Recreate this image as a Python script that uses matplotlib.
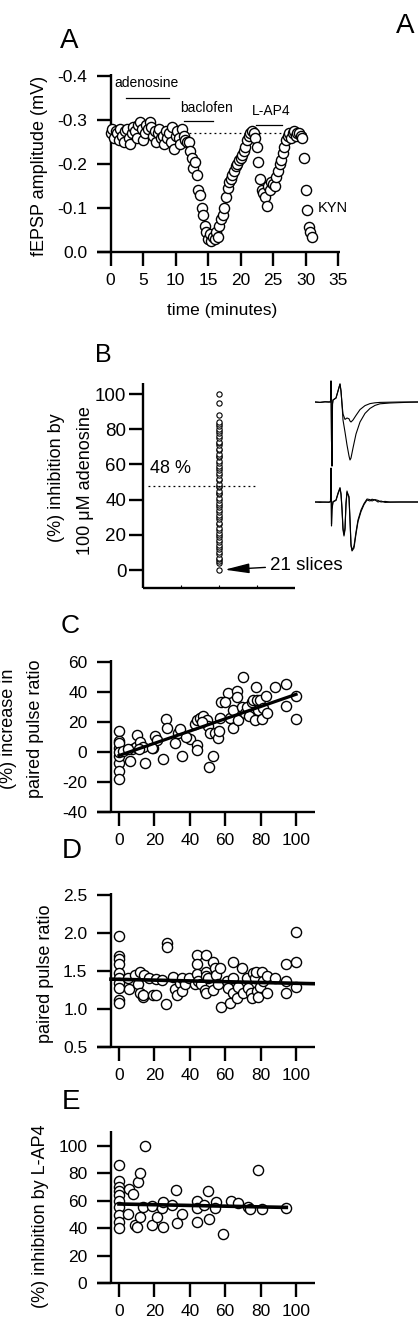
import matplotlib
matplotlib.use("Agg")
import matplotlib.pyplot as plt
import numpy as np

plt.rcParams['font.family'] = ['Liberation Sans', 'DejaVu Sans']
plt.rcParams['axes.unicode_minus'] = False

W, H = 418, 1328

# ---------------- data ----------------
# Panel A: fEPSP amplitude time course
a_time = [0.0, 0.25, 0.5, 0.75, 1.0, 1.25, 1.5, 1.75, 2.0, 2.25, 2.5, 2.75, 3.0, 3.25, 3.5, 3.75,
          4.0, 4.25, 4.5, 4.75, 5.0, 5.25, 5.5, 5.75, 6.0, 6.25, 6.5, 6.75, 7.0, 7.25, 7.5, 7.75,
          8.0, 8.25, 8.5, 8.75, 9.0, 9.25, 9.5, 9.75, 10.0, 10.25, 10.5, 10.75, 11.0, 11.25, 11.5, 11.75,
          12.0, 12.25, 12.5, 12.75, 13.0, 13.25, 13.5, 13.75, 14.0, 14.25, 14.5, 14.75, 15.0, 15.25,
          15.5, 15.75, 16.0, 16.25, 16.5, 16.75, 17.0, 17.25, 17.5, 17.75, 18.0, 18.25, 18.5, 18.75,
          19.0, 19.25, 19.5, 19.75, 20.0, 20.25, 20.5, 20.75, 21.0, 21.25, 21.5, 21.75, 22.0, 22.25,
          22.5, 22.75, 23.0, 23.25, 23.5, 23.75, 24.0, 24.25, 24.5, 24.75, 25.0, 25.25, 25.5, 25.75,
          26.0, 26.25, 26.5, 26.75, 27.0, 27.25, 27.5, 27.75, 28.0, 28.25, 28.5, 28.75, 29.0, 29.25,
          29.5, 29.75, 30.0, 30.25, 30.5, 30.75, 31.0]
a_amp = [-0.27, -0.28, -0.26, -0.275, -0.27, -0.255, -0.28, -0.265, -0.25, -0.275, -0.28, -0.26,
         -0.245, -0.27, -0.285, -0.275, -0.26, -0.29, -0.295, -0.28, -0.255, -0.27, -0.29, -0.28,
         -0.295, -0.285, -0.265, -0.275, -0.25, -0.27, -0.28, -0.26, -0.265, -0.245, -0.275, -0.26,
         -0.27, -0.25, -0.285, -0.235, -0.265, -0.275, -0.26, -0.245, -0.28, -0.265, -0.255, -0.25,
         -0.25, -0.23, -0.215, -0.19, -0.205, -0.175, -0.14, -0.13, -0.10, -0.085, -0.06, -0.045,
         -0.03, -0.04, -0.025, -0.035, -0.03, -0.045, -0.035, -0.06, -0.075, -0.085, -0.10, -0.125,
         -0.145, -0.16, -0.165, -0.175, -0.185, -0.195, -0.20, -0.21, -0.215, -0.22, -0.23, -0.24,
         -0.255, -0.265, -0.27, -0.275, -0.27, -0.26, -0.24, -0.205, -0.165, -0.14, -0.135, -0.125,
         -0.105, -0.15, -0.14, -0.16, -0.155, -0.15, -0.17, -0.185, -0.20, -0.21, -0.225, -0.24,
         -0.255, -0.265, -0.27, -0.26, -0.27, -0.275, -0.265, -0.27, -0.27, -0.265, -0.26, -0.215,
         -0.14, -0.095, -0.058, -0.045, -0.035]
a_yticks = [0.0, -0.1, -0.2, -0.3, -0.4]
a_yticklabels = ["0.0", "-0.1", "-0.2", "-0.3", "-0.4"]
a_xticks = [0, 5, 10, 15, 20, 25, 30, 35]
a_bars = {"adenosine": (2.4, 9.0, -0.35), "baclofen": (11.3, 15.8, -0.298), "L-AP4": (22.4, 26.4, -0.289)}
a_baseline = -0.27

# Panel B: % inhibition by adenosine (one column of slices)
b_values = [0, 4, 5, 6, 7, 9, 10, 12, 13, 14, 16, 17, 19, 20, 21, 23, 24, 26, 27, 29, 30, 31, 33,
            34, 36, 37, 38, 40, 41, 43, 44, 45, 47, 48, 49, 51, 52, 54, 55, 57, 58, 59, 61, 62,
            64, 65, 66, 68, 69, 71, 72, 73, 75, 76, 78, 79, 80, 82, 83, 84, 88, 95, 100]
b_mean = 48
b_yticks = [0, 20, 40, 60, 80, 100]

# Panel B inset traces (time in ms, voltage in arbitrary mV)
tr_t = [0.0, 0.5, 1.0, 1.4, 1.55, 1.6, 1.65, 1.7, 1.75, 1.8, 2.1, 2.3, 2.5, 2.6, 2.7, 2.8, 3.0,
        3.2, 3.4, 3.5, 3.6, 3.8, 4.1, 4.5, 5.0, 5.5, 6.0, 6.5, 7.5, 8.5, 9.5, 10.3]
tr_top_ctrl = [0.0, -0.02, 0.01, 0.0, 0.01, 1.05, -1.9, -3.2, -0.1, 0.1, 0.2, 0.55, 0.9, 0.55, -0.1,
               -0.9, -1.5, -2.15, -2.7, -2.9, -2.8, -2.3, -1.6, -1.0, -0.57, -0.32, -0.17, -0.09,
               -0.05, -0.03, -0.01, 0.0]
tr_top_aden = [0.0, -0.02, 0.01, 0.0, 0.01, 1.05, -1.9, -3.2, -0.1, 0.1, 0.2, 0.55, 0.9, 0.55, -0.1,
               -0.6, -0.87, -0.8, -0.84, -0.95, -1.0, -0.9, -0.67, -0.38, -0.18, -0.08, -0.04,
               -0.02, -0.01, 0.0, 0.0, 0.0]
tr_t2 = [0.0, 0.5, 1.0, 1.4, 1.55, 1.6, 1.65, 1.7, 1.8, 2.1, 2.3, 2.5, 2.6, 2.7, 2.8, 2.9, 3.0,
         3.1, 3.2, 3.4, 3.5, 3.6, 3.7, 3.9, 4.1, 4.3, 4.6, 4.9, 5.2, 5.5, 5.7, 6.0, 6.3, 6.6, 7.0,
         7.5, 8.5, 10.3]
tr_bot_ctrl = [0.0, -0.02, 0.0, -0.02, 0.02, 1.6, -1.2, -0.4, 0.0, 0.08, 0.4, 0.68, 0.38, -0.38,
               -1.4, -1.7, -1.4, -0.12, 0.48, 0.28, -0.85, -2.1, -2.45, -2.3, -1.6, -0.98, -0.48,
               -0.13, 0.1, 0.05, 0.14, 0.1, 0.0, 0.05, -0.02, -0.01, 0.0, 0.0]
tr_bot_aden = [0.0, 0.01, -0.01, 0.0, 0.02, 1.7, -1.1, -0.3, 0.02, 0.1, 0.45, 0.72, 0.42, -0.3,
               -1.3, -1.62, -1.3, -0.05, 0.55, 0.2, -0.95, -2.2, -2.4, -2.2, -1.5, -0.9, -0.4,
               -0.08, 0.15, 0.12, 0.05, 0.12, 0.08, 0.0, 0.03, 0.0, 0.0, 0.0]

# Panel C: % increase in paired pulse ratio vs % inhibition by adenosine
c_x = [0, 0, 0, 0, 0, 0, 0, 0, 6.2, 7.1, 9.9, 10.3, 11.8, 14.6, 13.7, 19.0, 20.3, 21.3, 25.0,
       26.5, 27.3, 31.6, 33.5, 34.5, 35.4, 40.1, 43.9, 43.9, 43.0, 43.9, 45.8, 47.7, 49.5, 50.5,
       51.0, 53.3, 51.3, 54.1, 56.0, 56.5, 56.9, 57.8, 61.6, 62.7, 64.6, 64.6, 66.5, 66.9, 67.4,
       69.3, 70.3, 71.2, 72.1, 73.6, 74.9, 75.9, 76.9, 77.4, 77.8, 78.7, 79.7, 80.6, 81.6, 82.9,
       83.4, 88.2, 94.4, 94.4, 100, 100, 0, 11.3, 18.5, 2.0, 5.0, 60.0, 47.0, 38.0]
c_y = [13.7, 7.1, 2.7, -7.3, -12.9, -18.0, -3.0, 6.0, -6.2, 1.6, 3.4, 11.2, 6.8, -7.6, 3.4, 2.3,
       10.6, 8.0, -4.7, 21.5, 16.0, 6.1, 12.8, 15.0, -2.5, 8.7, 4.2, 0.9, 18.6, 21.2, 22.4, 24.0,
       21.0, 16.9, -9.8, -3.1, 12.6, 12.6, 9.0, 13.5, 22.4, 33.4, 39.0, 22.4, 15.8, 28.0, 40.3,
       36.5, 21.2, 30.1, 49.6, 25.7, 30.1, 23.5, 33.4, 34.5, 21.2, 43.0, 34.5, 27.9, 34.5, 21.6,
       28.9, 37.3, 25.7, 43.0, 45.0, 30.6, 37.3, 21.6, 0.0, 1.6, 2.7, 0.5, 2.0, 33.0, 20.0, 10.0]
c_fit_x = [0, 100]
c_fit_y = [-2.5, 38.2]
c_yticks = [-40, -20, 0, 20, 40, 60]

# Panel D: paired pulse ratio vs % inhibition by adenosine
d_x = [0, 0, 0, 0, 0, 0, 0, 0, 0, 0, 5.0, 5.6, 8.8, 11.6, 10.7, 11.6, 13.4, 14.4, 13.8, 17.2,
       19.1, 21.0, 21.0, 24.5, 26.4, 27.3, 27.3, 30.7, 31.6, 32.6, 34.5, 35.4, 35.4, 37.3, 39.7,
       43.9, 43.9, 43.9, 43.0, 44.8, 46.6, 48.5, 49.4, 49.4, 49.4, 49.4, 50.0, 53.0, 53.0, 54.0,
       55.0, 56.0, 56.9, 57.8, 60.8, 61.7, 62.7, 64.6, 64.6, 64.6, 66.5, 67.4, 69.3, 70.3, 72.1,
       73.0, 74.4, 75.0, 75.9, 76.9, 77.4, 77.8, 78.7, 79.7, 80.6, 81.6, 83.4, 83.4, 88.2, 94.4,
       94.4, 94.4, 100, 100, 100]
d_y = [1.96, 1.69, 1.65, 1.59, 1.47, 1.40, 1.34, 1.27, 1.12, 1.08, 1.40, 1.26, 1.45, 1.49, 1.32,
       1.21, 1.16, 1.45, 1.18, 1.40, 1.18, 1.39, 1.18, 1.38, 1.07, 1.86, 1.81, 1.42, 1.26, 1.18,
       1.34, 1.23, 1.40, 1.32, 1.40, 1.71, 1.59, 1.46, 1.32, 1.36, 1.32, 1.25, 1.71, 1.49, 1.43,
       1.21, 1.40, 1.62, 1.25, 1.54, 1.45, 1.32, 1.53, 1.02, 1.36, 1.27, 1.08, 1.62, 1.40, 1.21,
       1.14, 1.29, 1.53, 1.21, 1.40, 1.27, 1.21, 1.14, 1.47, 1.40, 1.49, 1.23, 1.16, 1.29, 1.49,
       1.36, 1.43, 1.21, 1.40, 1.59, 1.36, 1.21, 2.01, 1.61, 1.29]
d_fit_x = [-4.5, 110.7]
d_fit_y = [1.39, 1.33]
d_yticks = [0.5, 1.0, 1.5, 2.0, 2.5]

# Panel E: % inhibition by L-AP4 vs % inhibition by adenosine
e_x = [0, 0, 0, 0, 0, 0, 0, 0, 0, 0, 5.8, 5.3, 8.1, 9.0, 10.5, 11.8, 10.3, 11.8, 13.3, 14.6,
       18.4, 18.9, 21.3, 24.5, 25.0, 25.0, 29.7, 32.2, 32.6, 35.4, 43.9, 43.9, 43.9, 48.0, 50.5,
       51.0, 54.8, 54.2, 58.5, 63.5, 67.2, 72.9, 74.2, 78.6, 80.8, 94.5]
e_y = [86.1, 74.6, 70.3, 67.0, 64.2, 60.0, 55.7, 49.6, 44.7, 39.9, 68.4, 50.3, 64.9, 42.3, 73.9,
       80.4, 41.0, 47.9, 55.2, 100.0, 42.3, 56.0, 47.9, 54.5, 41.0, 59.4, 57.0, 67.9, 44.0, 50.3,
       59.8, 44.2, 54.5, 56.9, 67.4, 46.6, 59.4, 54.5, 35.5, 59.8, 58.6, 55.7, 54.0, 82.5, 54.0,
       54.5]
e_fit_x = [0, 94.5]
e_fit_y = [57.7, 55.2]
e_yticks = [0, 20, 40, 60, 80, 100]

cde_xticks = [0, 20, 40, 60, 80, 100]

# ---------------- helpers ----------------
fig = plt.figure(figsize=(W / 100, H / 100), dpi=100)


def add_ax(x0, y0, x1, y1):
    return fig.add_axes([x0 / W, 1 - y1 / H, (x1 - x0) / W, (y1 - y0) / H])


def ftext(x, y, s, **kw):
    return fig.text(x / W, 1 - y / H, s, **kw)


LW = 1.7
TICKLEN = 10
TICKFS = 12.5
LABFS = 13


def style(ax):
    for s in ("top", "right"):
        ax.spines[s].set_visible(False)
    for s in ("left", "bottom"):
        ax.spines[s].set_linewidth(LW)
        ax.spines[s].set_capstyle("butt")
    ax.tick_params(direction="out", length=TICKLEN, width=LW, labelsize=TICKFS)
    ax.patch.set_alpha(0)


mk = dict(marker="o", linestyle="none", mfc="white", mec="black")

# ---------------- Panel A ----------------
axA = add_ax(97, 74, 340, 252)
style(axA)
axA.set_xlim(-2.1, 35.3)
axA.set_ylim(0, -0.405)
axA.spines["left"].set_position(("data", 0))
axA.plot([0.5, 30], [a_baseline, a_baseline], color="black", lw=0.9, ls=(0, (1.5, 2.5)), zorder=1)
axA.plot(a_time, a_amp, ms=7.3, mew=1.0, zorder=3, **mk)
axA.set_yticks(a_yticks)
axA.set_yticklabels(a_yticklabels)
axA.set_xticks(a_xticks)
axA.tick_params(axis="y", pad=7)
axA.tick_params(axis="x", pad=5)
for name, (x0, x1, yv) in a_bars.items():
    axA.plot([x0, x1], [yv, yv], color="black", lw=0.9)
axA.text(0.5, -0.384, "adenosine", fontsize=10, va="center", ha="left")
axA.text(10.7, -0.327, "baclofen", fontsize=10, va="center", ha="left")
axA.text(21.8, -0.32, "L-AP4", fontsize=10, va="center", ha="left")
axA.text(31.8, -0.1, "KYN", fontsize=10.5, va="center", ha="left")
ftext(40, 166, "fEPSP amplitude (mV)", rotation=90, ha="center", va="center", fontsize=LABFS)
ftext(222, 311, "time (minutes)", ha="center", va="center", fontsize=12.5)

# ---------------- Panel B ----------------
axB = add_ax(143, 383, 295, 588)
style(axB)
axB.set_xlim(0, 4)
axB.set_ylim(-10.2, 106.25)
axB.plot([2] * len(b_values), b_values, ms=3.8, mew=0.8, **mk)
axB.plot([0.13, 2.95], [b_mean, b_mean], color="black", lw=0.9, ls=(0, (1.5, 2.5)))
axB.set_yticks(b_yticks)
axB.set_xticks([1, 2, 3])
axB.tick_params(axis="x", direction="in", length=2.5, width=0.8, labelbottom=False)
axB.tick_params(axis="y", pad=2, labelsize=13.5)
axB.text(0.18, 57.4, "48 %", fontsize=13, va="center", ha="left")
axB.annotate("21 slices", xy=(2.15, 0.2), xytext=(3.33, 2.8), fontsize=13.5, va="center", ha="left",
             annotation_clip=False,
             arrowprops=dict(arrowstyle="-|>,head_length=1.1,head_width=0.22", color="black",
                             lw=1.0, shrinkA=1, shrinkB=0))
ftext(57, 478, "(%) inhibition by", rotation=90, ha="center", va="center", fontsize=LABFS)
ftext(85, 481, "100 \u03bcM adenosine", rotation=90, ha="center", va="center", fontsize=LABFS)

# inset traces
axT = add_ax(315, 372, 418, 562)
axT.set_xlim(0, 10.3)
axT.set_ylim(-8.0, 1.5)
axT.axis("off")
axT.plot(tr_t, tr_top_ctrl, color="black", lw=0.8)
axT.plot(tr_t, tr_top_aden, color="black", lw=0.8)
axT.plot(tr_t2, [v - 5.0 for v in tr_bot_ctrl], color="black", lw=0.8)
axT.plot(tr_t2, [v - 5.0 for v in tr_bot_aden], color="black", lw=0.8)

# ---------------- Panel C ----------------
axC = add_ax(97, 660, 315, 812)
style(axC)
axC.set_xlim(-12.4, 110.7)
axC.set_ylim(-40, 61)
axC.spines["left"].set_position(("data", -4.5))
axC.plot(c_x, c_y, ms=7.3, mew=1.0, zorder=3, **mk)
axC.plot(c_fit_x, c_fit_y, color="black", lw=2.3, zorder=4)
axC.set_yticks(c_yticks)
axC.set_xticks(cde_xticks)
axC.tick_params(axis="y", pad=7)
axC.tick_params(axis="x", pad=5)
ftext(9, 729, "(%) increase in", rotation=90, ha="center", va="center", fontsize=LABFS)
ftext(36, 729, "paired pulse ratio", rotation=90, ha="center", va="center", fontsize=LABFS)

# ---------------- Panel D ----------------
axD = add_ax(97, 893, 315, 1047)
style(axD)
axD.set_xlim(-12.4, 110.7)
axD.set_ylim(0.5, 2.52)
axD.spines["left"].set_position(("data", -4.5))
axD.plot(d_x, d_y, ms=7.3, mew=1.0, zorder=3, **mk)
axD.plot(d_fit_x, d_fit_y, color="black", lw=2.6, zorder=4)
axD.set_yticks(d_yticks)
axD.set_yticklabels(["%.1f" % v for v in d_yticks])
axD.set_xticks(cde_xticks)
axD.tick_params(axis="y", pad=7)
axD.tick_params(axis="x", pad=5)
ftext(45, 974, "paired pulse ratio", rotation=90, ha="center", va="center", fontsize=LABFS)

# ---------------- Panel E ----------------
axE = add_ax(97, 1131, 315, 1283)
style(axE)
axE.set_xlim(-12.4, 110.7)
axE.set_ylim(0, 111)
axE.spines["left"].set_position(("data", -4.5))
axE.plot(e_x, e_y, ms=7.3, mew=1.0, zorder=3, **mk)
axE.plot(e_fit_x, e_fit_y, color="black", lw=2.6, zorder=4)
axE.set_yticks(e_yticks)
axE.set_xticks(cde_xticks)
axE.tick_params(axis="y", pad=7)
axE.tick_params(axis="x", pad=5)
ftext(41, 1216, "(%) inhibition by L-AP4", rotation=90, ha="center", va="center", fontsize=LABFS)

# ---------------- Panel letters ----------------
ftext(60, 48, "A", fontsize=20, va="baseline", ha="left")
ftext(396, 33, "A", fontsize=20, va="baseline", ha="left")
ftext(95, 362, "B", fontsize=18, va="baseline", ha="left")
ftext(61, 633, "C", fontsize=19, va="baseline", ha="left")
ftext(62, 858, "D", fontsize=20, va="baseline", ha="left")
ftext(62, 1109, "E", fontsize=20, va="baseline", ha="left")

fig.savefig("out.png", dpi=100)
